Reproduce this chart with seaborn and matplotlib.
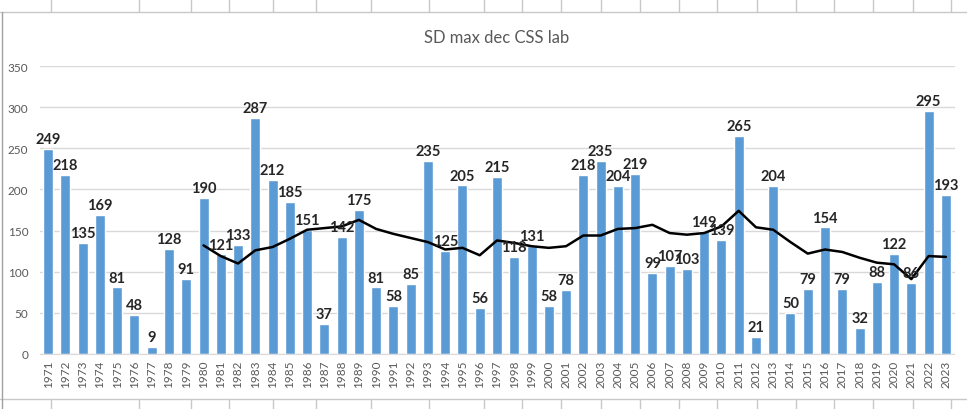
import matplotlib
matplotlib.use("Agg")
import matplotlib.pyplot as plt
import seaborn as sns
import pandas as pd
from matplotlib.lines import Line2D

# data
years = list(range(1971, 2024))
sd_max = [249, 218, 135, 169, 81, 48, 9, 128, 91, 190,
          121, 133, 287, 212, 185, 151, 37, 142, 175, 81,
          58, 85, 235, 125, 205, 56, 215, 118, 131, 58,
          78, 218, 235, 204, 219, 99, 107, 103, 149, 139,
          265, 21, 204, 50, 79, 154, 79, 32, 88, 122,
          86, 295, 193]
# trend line (10-yr moving average), starts at 1980
trend_years = list(range(1980, 2024))
trend_vals = [132, 119, 110, 126, 130, 140, 151, 153, 155, 163,
              152, 146, 141, 136, 127, 129, 120, 138, 135, 131,
              129, 131, 144, 144, 152, 153, 157, 147, 145, 147,
              155, 174, 154, 151, 136, 122, 127, 124, 117, 111,
              109, 91, 119, 118]

df = pd.DataFrame({"year": [str(y) for y in years], "value": sd_max})

sns.set_style("white")
plt.rcParams["font.family"] = ["Lato", "DejaVu Sans"]

fig = plt.figure(figsize=(9.67, 4.10), dpi=100)
ax = fig.add_axes([39.5 / 967, 55 / 410, 915 / 967, 288 / 410])

sns.barplot(data=df, x="year", y="value", color="#5B9BD5", saturation=1,
            width=0.58, ax=ax, zorder=2)

# trend line on the same categorical positions
pos = [years.index(y) for y in trend_years]
ax.plot(pos, trend_vals, color="black", lw=1.8, zorder=3)

for i, v in enumerate(sd_max):
    ax.annotate(str(v), (i, v), xytext=(0, 2), textcoords="offset points",
                ha="center", va="bottom", fontsize=10.5, fontweight="bold",
                color="#262626", zorder=4)

ax.set_ylim(0, 350)
ax.set_xlim(-0.5, len(years) - 0.5)
ax.set_yticks(range(0, 351, 50))
ax.yaxis.grid(True, color="#D9D9D9", lw=1)
ax.set_axisbelow(True)
for s in ["top", "right", "left"]:
    ax.spines[s].set_visible(False)
ax.spines["bottom"].set_color("#D9D9D9")
ax.tick_params(axis="x", rotation=90, labelsize=8.5, colors="#595959", length=0, pad=4)
ax.tick_params(axis="y", labelsize=8.5, colors="#595959", length=0, pad=8)
ax.set_xlabel("")
ax.set_ylabel("")

fig.text(497 / 967, 1 - 38 / 410, "SD max dec CSS lab", ha="center", va="center",
         fontsize=12, color="#595959")

# spreadsheet cell borders around the chart
grid_c = "#C8C8C8"
cells = [51, 139, 191, 229, 273, 316, 371, 429, 484, 522, 561, 601, 640,
         679, 717, 757, 796, 834, 873, 913, 951]
for yy in [13, 400]:
    fig.add_artist(Line2D([0, 1], [1 - yy / 410] * 2, color=grid_c, lw=1))
for xx in cells:
    fig.add_artist(Line2D([xx / 967] * 2, [1, 1 - 13 / 410], color=grid_c, lw=1))
    fig.add_artist(Line2D([xx / 967] * 2, [1 - 400 / 410, 0], color=grid_c, lw=1))
fig.add_artist(Line2D([1.5 / 967] * 2, [0, 1 - 13 / 410], color="#A0A0A0", lw=1))

fig.savefig("out.png", dpi=100)
